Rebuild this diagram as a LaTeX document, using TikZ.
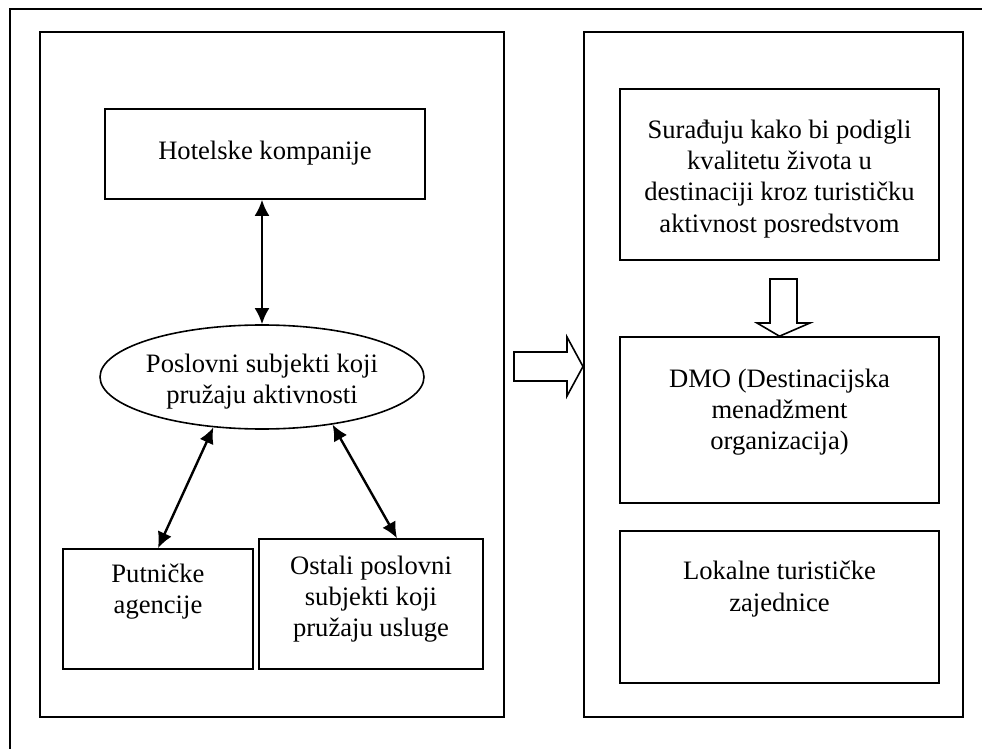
\documentclass[tikz,border=0pt]{standalone}
\usepackage{fontspec}
\setmainfont{Liberation Serif}
\usetikzlibrary{shapes,arrows.meta,positioning}

\begin{document}
\begin{tikzpicture}[x=0.5pt,y=-0.5pt,
  panel/.style={draw, line width=1pt, inner sep=0pt},
  box/.style={draw, line width=0.8pt, inner sep=0pt},
  txt/.style={align=center, inner sep=0pt, font=\fontsize{13.3}{15.6}\selectfont},
  link/.style={{Latex[length=8pt,width=7.5pt]}-{Latex[length=8pt,width=7.5pt]}, line width=1.2pt},
  hollow/.style={draw, line width=0.8pt, fill=white, line join=miter}]
\useasboundingbox (0,0) rectangle (982,749);
\draw[line width=1.2pt] (10,749) -- (10,9) -- (982,9);

%Nodes
\node[panel, minimum width=232pt, minimum height=342.5pt] (lpanel) at (272,374.5) {};
\node[panel, minimum width=189.5pt, minimum height=342.5pt] (rpanel) at (773.5,374.5) {};

\node[box, minimum width=160pt, minimum height=45pt] (hotel) at (265,154) {};
\node[txt] (hotelT) at (265,153) {Hotelske kompanije};
\node[box, ellipse, minimum width=162pt, minimum height=52pt] (ell) at (262,377) {};
\node[txt] (ellT) at (262,382) {Poslovni subjekti koji\\pružaju aktivnosti};
\node[box, minimum width=95pt, minimum height=60pt] (put) at (158,609) {};
\node[txt] (putT) at (158,592) {Putničke\\agencije};
\node[box, minimum width=112pt, minimum height=65pt] (ost) at (371,604) {};
\node[txt] (ostT) at (371,599) {Ostali poslovni\\subjekti koji\\pružaju usluge};

\node[box, minimum width=159.5pt, minimum height=85.5pt] (sura) at (779.5,174.5) {};
\node[txt] (suraT) at (779.5,179) {Surađuju kako bi podigli\\kvalitetu života u\\destinaciji kroz turističku\\aktivnost posredstvom};
\node[box, minimum width=159.5pt, minimum height=83pt] (dmo) at (779.5,420) {};
\node[txt] (dmoT) at (779.5,412) {DMO (Destinacijska\\menadžment\\organizacija)};
\node[box, minimum width=159.5pt, minimum height=76pt] (lok) at (779.5,607) {};
\node[txt] (lokT) at (779.5,589) {Lokalne turističke\\zajednice};

%Arrows
\draw[link] (hotel.south -| ell.north) -- (ell.north);
\draw[link] (ell.226) -- (put.north);
\draw[link] (ell.326) -- ([xshift=13pt]ost.north);

\draw[hollow] (514,352) -- (567,352) -- (567,337) -- (rpanel.west |- 0,366.5)
  -- (567,396) -- (567,381) -- (514,381) -- cycle;
\draw[hollow] (770,279) -- (797,279) -- (797,323) -- (810,323) -- (dmo.north)
  -- (757,323) -- (770,323) -- cycle;
\end{tikzpicture}
\end{document}
